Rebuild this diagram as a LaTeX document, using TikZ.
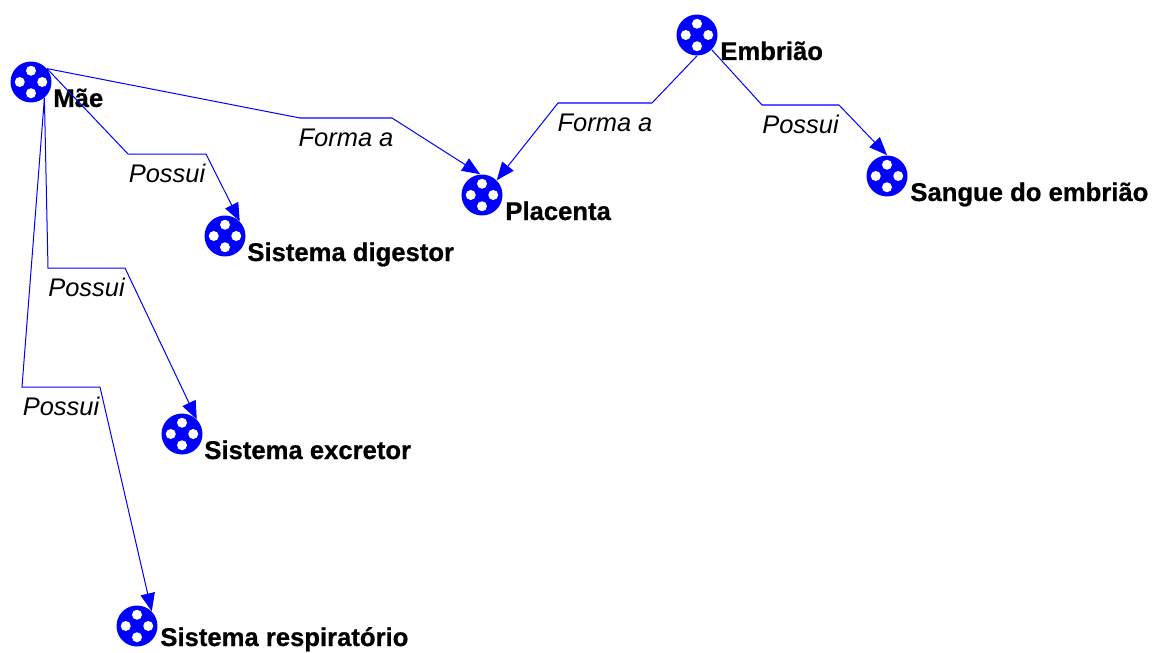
\documentclass[tikz,border=0pt]{standalone}
\usepackage{fontspec}
\setmainfont{Liberation Sans}[BoldFeatures={FakeBold=0.7}]
\usetikzlibrary{arrows.meta}

\tikzset{
  classnode/.style={circle, fill=blue, inner sep=0pt, minimum size=0.82cm,
    path picture={
      \foreach \a in {0, 90, 180, 270} {
        \fill[white] (path picture bounding box.center) ++(\a:0.225cm) circle (0.1cm);
      }
    }},
  classname/.style={anchor=base west, inner sep=0pt, font=\bfseries\fontsize{14.6}{16}\selectfont},
  rolename/.style={below, inner sep=0pt, yshift=-0.2cm, font=\itshape\fontsize{14.5}{16}\selectfont},
  relation/.style={draw=blue, line width=0.57pt, -{Triangle[length=0.36cm, width=0.29cm]}},
}

\begin{document}
\begin{tikzpicture}[x=0.02cm, y=-0.02cm]
  \useasboundingbox (0, 0) rectangle (1155, 652);

  \node[classnode] (mae) at (31, 82) {};
  \node[classnode] (embriao) at (697, 35) {};
  \node[classnode] (placenta) at (482, 195) {};
  \node[classnode] (sangue) at (887, 176) {};
  \node[classnode] (digestor) at (225, 236) {};
  \node[classnode] (excretor) at (182, 434) {};
  \node[classnode] (respiratorio) at (137, 626) {};

  \node[classname] (maetxt) at (53, 107) {Mãe};
  \node[classname] (embriaotxt) at (720, 60) {Embrião};
  \node[classname] (placentatxt) at (505, 220) {Placenta};
  \node[classname] (sanguetxt) at (910, 201) {Sangue do embrião};
  \node[classname] (digestortxt) at (247, 261) {Sistema digestor};
  \node[classname] (excretortxt) at (204, 459) {Sistema excretor};
  \node[classname] (respiratoriotxt) at (160, 646) {Sistema respiratório};

  % bends of the connectors
  \coordinate (a1) at (300, 118);
  \coordinate (a2) at (392, 118);
  \coordinate (b1) at (128, 154);
  \coordinate (b2) at (206, 154);
  \coordinate (c1) at (48, 268);
  \coordinate (c2) at (125, 268);
  \coordinate (d1) at (22, 387);
  \coordinate (d2) at (100, 387);
  \coordinate (e1) at (652, 103);
  \coordinate (e2) at (558, 103);
  \coordinate (f1) at (762, 105);
  \coordinate (f2) at (839, 105);

  \draw[relation] (mae.40) -- (a1) -- node[rolename] (forma1) {Forma a} (a2) -- (placenta.95);
  \draw[relation] (mae.40) -- (b1) -- node[rolename] (possui1) {Possui} (b2) -- (digestor.45);
  \draw[relation] (mae.-50) -- (c1) -- node[rolename] (possui2) {Possui} (c2) -- (excretor.45);
  \draw[relation] (mae.-50) -- (d1) -- node[rolename] (possui3) {Possui} (d2) -- (respiratorio.45);
  \draw[relation] (embriao.-90) -- (e1) -- node[rolename] (forma2) {Forma a} (e2) -- (placenta.45);
  \draw[relation] (embriao.-45) -- (f1) -- node[rolename] (possui4) {Possui} (f2) -- (sangue.90);
\end{tikzpicture}
\end{document}
